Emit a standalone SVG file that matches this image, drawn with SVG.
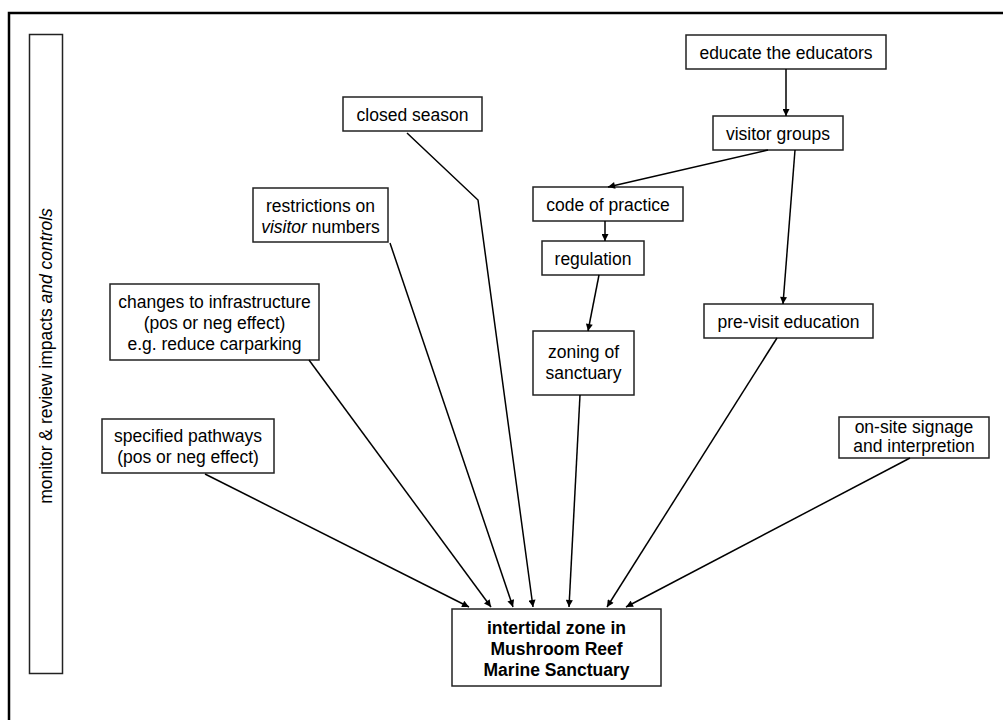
<svg xmlns="http://www.w3.org/2000/svg" width="1003" height="720" viewBox="0 0 1003 720">
  <style>
    .box { fill: #fff; stroke: #222; stroke-width: 1.5; }
    .t { font-family: "Liberation Sans", Arial, sans-serif; font-size: 17.5px; fill: #000; text-anchor: middle; }
    .b { font-weight: bold; }
    .edge { fill: none; stroke: #000; stroke-width: 1.5; marker-end: url(#arrow); }
  </style>
  <defs>
    <marker id="arrow" viewBox="0 0 10 10" refX="10" refY="5" markerWidth="8" markerHeight="7" markerUnits="userSpaceOnUse" orient="auto">
      <path d="M0,0 L10,5 L0,10 z" fill="#000"/>
    </marker>
  </defs>
  <rect width="1003" height="720" fill="#fff"/>
  <!-- outer frame -->
  <rect x="9" y="13" width="1010" height="720" fill="none" stroke="#000" stroke-width="2.5"/>

  <!-- side panel -->
  <g id="monitor">
    <rect class="box" x="29.5" y="34.5" width="33" height="639"/>
    <text class="t" transform="translate(52,356) rotate(-90)">monitor &amp; review impacts <tspan font-style="italic">and controls</tspan></text>
  </g>

  <g id="educate">
    <rect class="box" x="686" y="35" width="200" height="34"/>
    <text class="t" x="786" y="59">educate the educators</text>
  </g>
  <g id="visitor-groups">
    <rect class="box" x="713" y="116" width="130" height="34"/>
    <text class="t" x="778" y="140">visitor groups</text>
  </g>
  <g id="closed-season">
    <rect class="box" x="343" y="97" width="139" height="34"/>
    <text class="t" x="412.5" y="121">closed season</text>
  </g>
  <g id="code-of-practice">
    <rect class="box" x="533" y="187" width="150" height="34"/>
    <text class="t" x="608" y="211">code of practice</text>
  </g>
  <g id="restrictions">
    <rect class="box" x="253" y="188" width="135" height="54"/>
    <text class="t" x="320.5" y="212">restrictions on</text>
    <text class="t" x="320.5" y="233"><tspan font-style="italic">visitor</tspan> numbers</text>
  </g>
  <g id="regulation">
    <rect class="box" x="542" y="241" width="102" height="34"/>
    <text class="t" x="593" y="265">regulation</text>
  </g>
  <g id="infrastructure">
    <rect class="box" x="110" y="284" width="209" height="76"/>
    <text class="t" x="214.5" y="308">changes to infrastructure</text>
    <text class="t" x="214.5" y="329">(pos or neg effect)</text>
    <text class="t" x="214.5" y="350">e.g. reduce carparking</text>
  </g>
  <g id="pre-visit">
    <rect class="box" x="704" y="304" width="169" height="34"/>
    <text class="t" x="788.5" y="328">pre-visit education</text>
  </g>
  <g id="zoning">
    <rect class="box" x="533" y="331" width="101" height="64"/>
    <text class="t" x="583.5" y="358">zoning of</text>
    <text class="t" x="583.5" y="379">sanctuary</text>
  </g>
  <g id="signage">
    <rect class="box" x="839" y="417" width="150" height="41"/>
    <text class="t" x="914" y="433" font-size="17">on-site signage</text>
    <text class="t" x="914" y="452" font-size="17">and interpretion</text>
  </g>
  <g id="pathways">
    <rect class="box" x="102" y="419" width="172" height="54"/>
    <text class="t" x="188" y="442">specified pathways</text>
    <text class="t" x="188" y="463">(pos or neg effect)</text>
  </g>
  <g id="intertidal">
    <rect class="box" x="452" y="609" width="209" height="77"/>
    <text class="t b" x="556.5" y="634">intertidal zone in</text>
    <text class="t b" x="556.5" y="655">Mushroom Reef</text>
    <text class="t b" x="556.5" y="676">Marine Sanctuary</text>
  </g>

  <!-- connectors -->
  <g id="connectors">
    <path class="edge" d="M786,69 L786,116"/>
    <path class="edge" d="M768,150 L608,187"/>
    <path class="edge" d="M795,150 L783,304"/>
    <path class="edge" d="M605,221 L605,241"/>
    <path class="edge" d="M599,275 L588,331"/>
    <path class="edge" d="M205,474 L469,607"/>
    <path class="edge" d="M309,360 L491,607"/>
    <path class="edge" d="M390,243 L513,607"/>
    <path class="edge" d="M407,133 L478,200 L533,607"/>
    <path class="edge" d="M580,395 L569,607"/>
    <path class="edge" d="M777,338 L607,607"/>
    <path class="edge" d="M910,458 L626,607"/>
  </g>
</svg>
